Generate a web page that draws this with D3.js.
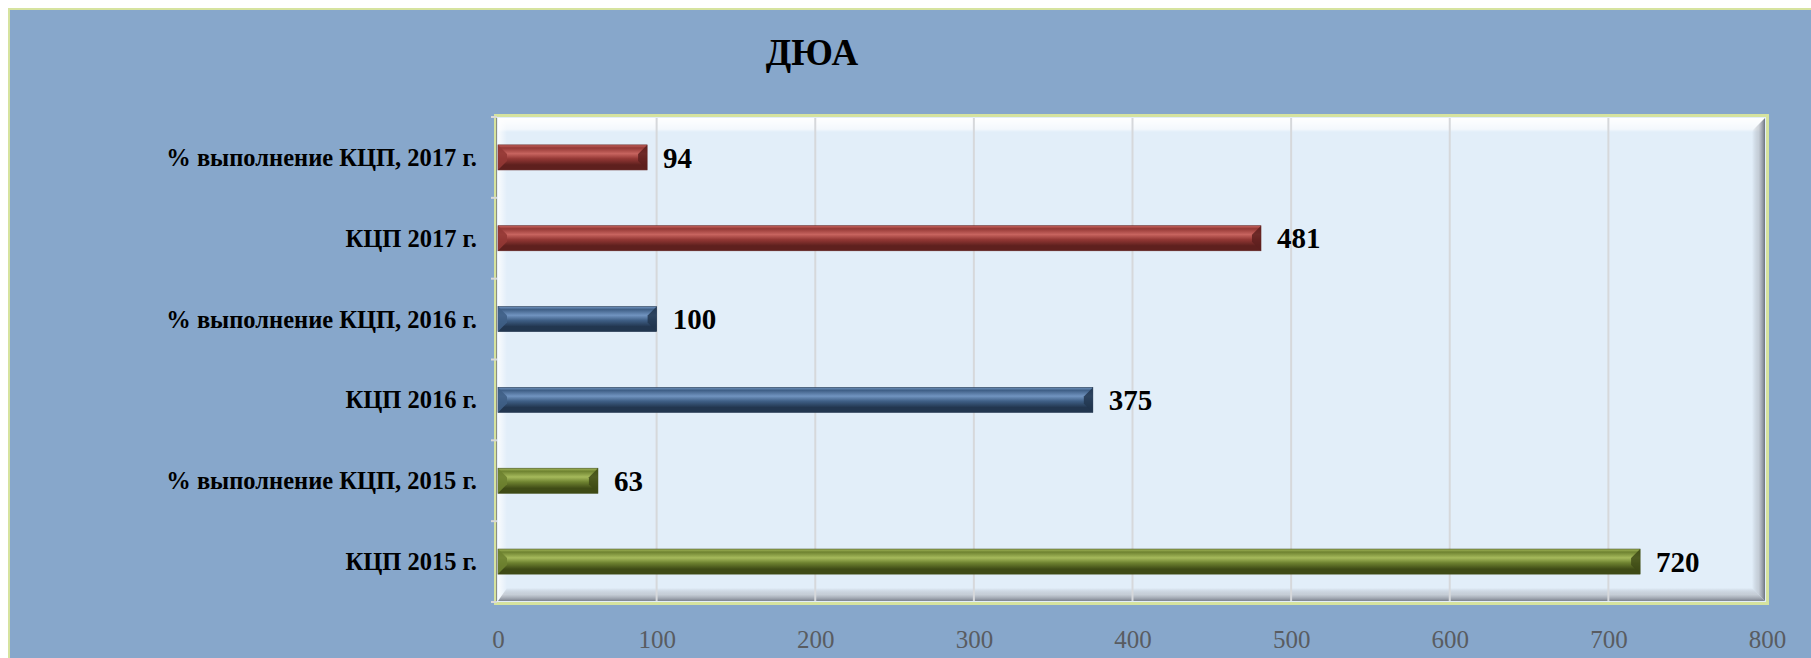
<!DOCTYPE html>
<html>
<head>
<meta charset="utf-8">
<script src="https://cdn.jsdelivr.net/npm/d3@7"></script>
<style>
  html, body { margin: 0; padding: 0; background: #ffffff; }
  svg { display: block; }
  text { font-family: "Liberation Serif", "Times New Roman", serif; }
</style>
</head>
<body>
<div id="chart"></div>
<script>
// data, bottom to top
var categories = ["КЦП 2015 г.", "% выполнение КЦП, 2015 г.", "КЦП 2016 г.",
                  "% выполнение КЦП, 2016 г.", "КЦП 2017 г.", "% выполнение КЦП, 2017 г."];
var values = [720, 63, 375, 100, 481, 94];
var years = ["2015", "2015", "2016", "2016", "2017", "2017"];
var xTicks = [0, 100, 200, 300, 400, 500, 600, 700, 800];
var title = "ДЮА";

var width = 1811,
    height = 658;

var palette = {
  "2015": {base: "#6e8230", light: "#a6ba5c", dark: "#3f4b16"},
  "2016": {base: "#3f5f86", light: "#7194c0", dark: "#22364f"},
  "2017": {base: "#943835", light: "#c7645f", dark: "#5e201e"}
};

var svg = d3.select("#chart").append("svg")
    .attr("width", width)
    .attr("height", height);

var defs = svg.append("defs");

// 1. background
svg.append("rect")
    .attr("x", 9).attr("y", 9)
    .attr("width", width).attr("height", height)
    .attr("fill", "#87a7cb")
    .attr("stroke", "#d6e39f")
    .attr("stroke-width", 2);

svg.append("text")
    .attr("x", 812).attr("y", 65)
    .attr("text-anchor", "middle")
    .attr("font-family", "Liberation Serif, serif")
    .attr("font-size", 37)
    .attr("font-weight", "bold")
    .attr("fill", "#000")
    .text(title);

// 2. scales
var plotTop = 117, plotBottom = 602, plotLeft = 497, plotRight = 1766;

var x = d3.scaleLinear()
    .domain([0, 800])
    .range([498, 1767]);

var y = d3.scaleBand()
    .domain(categories)
    .range([plotBottom, plotTop])
    .paddingInner(0.69)
    .paddingOuter(0.345);

// 3. plot panel
svg.append("rect")
    .attr("x", plotLeft - 1.5).attr("y", plotTop - 1.5)
    .attr("width", plotRight - plotLeft + 3).attr("height", plotBottom - plotTop + 3)
    .attr("fill", "#e2eef9")
    .attr("stroke", "#d6e39f")
    .attr("stroke-width", 3);

function linGrad(id, x2, y2, stops) {
  var g = defs.append("linearGradient").attr("id", id)
      .attr("x1", 0).attr("y1", 0).attr("x2", x2).attr("y2", y2);
  stops.forEach(function(s) {
    g.append("stop").attr("offset", s[0]).attr("stop-color", s[1]).attr("stop-opacity", s[2]);
  });
}
linGrad("bevTop", 0, 1, [[0, "#ffffff", 1], [0.8, "#ffffff", 0.6], [1, "#ffffff", 0]]);
linGrad("bevLeft", 1, 0, [[0, "#ffffff", 0.8], [1, "#ffffff", 0]]);
linGrad("bevRight", 1, 0, [[0, "#8a909b", 0], [0.5, "#a9aeb6", 0.5], [1, "#6d7380", 1]]);
linGrad("bevBottom", 0, 1, [[0, "#8a909b", 0], [0.5, "#b3b8c0", 0.6], [1, "#7c828e", 1]]);

var inL = plotLeft + 1, inR = plotRight - 1, inT = plotTop + 1, inB = plotBottom - 1;
svg.append("rect").attr("x", inL).attr("y", inT).attr("width", inR - inL).attr("height", 14).attr("fill", "url(#bevTop)");
svg.append("rect").attr("x", inL).attr("y", inT).attr("width", 9).attr("height", inB - inT).attr("fill", "url(#bevLeft)");
svg.append("path")
    .attr("d", "M" + inR + "," + inT + "L" + inR + "," + inB + "L" + (inR - 13) + "," + (inB - 13) + "L" + (inR - 13) + "," + (inT + 13) + "Z")
    .attr("fill", "url(#bevRight)");
svg.append("path")
    .attr("d", "M" + inL + "," + inB + "L" + inR + "," + inB + "L" + (inR - 13) + "," + (inB - 13) + "L" + (inL + 9) + "," + (inB - 13) + "Z")
    .attr("fill", "url(#bevBottom)");

// 4. gridlines and axes
svg.append("g")
    .selectAll("line")
    .data(xTicks.slice(1, -1))
    .enter()
    .append("line")
    .attr("x1", function(d) { return x(d); })
    .attr("x2", function(d) { return x(d); })
    .attr("y1", inT).attr("y2", inB)
    .attr("stroke", "#d6d8db")
    .attr("stroke-width", 2);

var xAxis = svg.append("g")
    .attr("transform", "translate(0," + plotBottom + ")")
    .call(d3.axisBottom(x).tickValues(xTicks).tickSize(0).tickPadding(28).tickFormat(d3.format("d")));
xAxis.select(".domain").remove();
xAxis.selectAll("text")
    .attr("font-family", "Liberation Serif, serif")
    .attr("font-size", 25)
    .attr("fill", "#595c61");

svg.append("line")
    .attr("x1", plotLeft - 0.5).attr("x2", plotLeft - 0.5)
    .attr("y1", plotTop).attr("y2", plotBottom)
    .attr("stroke", "#8d8f80").attr("stroke-width", 1);

var step = y.step();
svg.append("g")
    .selectAll("line")
    .data(d3.range(categories.length + 1))
    .enter()
    .append("line")
    .attr("x1", plotLeft - 6).attr("x2", plotLeft)
    .attr("y1", function(i) { return plotBottom - i * step; })
    .attr("y2", function(i) { return plotBottom - i * step; })
    .attr("stroke", "#d9d9d9").attr("stroke-width", 2);

svg.append("g")
    .selectAll("text")
    .data(categories)
    .enter()
    .append("text")
    .attr("x", 477)
    .attr("y", function(d) { return y(d) + y.bandwidth() / 2; })
    .attr("dy", "0.35em")
    .attr("text-anchor", "end")
    .attr("font-size", 24.5)
    .attr("font-weight", "bold")
    .attr("fill", "#000")
    .text(function(d) { return d; });

// 5. bars with bevel
years.forEach(function(yr) {
  var c = palette[yr];
  linGrad("bar" + yr, 0, 1, [[0, c.light, 1], [0.12, c.base, 1], [0.35, c.light, 1],
                             [0.55, c.base, 1], [0.8, c.dark, 1], [1, c.dark, 1]]);
});

var bev = 9;
var bars = svg.append("g")
    .selectAll("g")
    .data(categories)
    .enter()
    .append("g");

bars.append("rect")
    .attr("x", x(0))
    .attr("y", function(d) { return y(d); })
    .attr("width", function(d, i) { return x(values[i]) - x(0); })
    .attr("height", y.bandwidth())
    .attr("fill", function(d, i) { return "url(#bar" + years[i] + ")"; })
    .attr("stroke", function(d, i) { return palette[years[i]].dark; })
    .attr("stroke-width", 0.6);

bars.append("path")
    .attr("d", function(d, i) {
      var x1 = x(values[i]), y0 = y(d), y1 = y(d) + y.bandwidth();
      return "M" + x1 + "," + y0 + "L" + (x1 - bev) + "," + (y0 + bev) + "L" + (x1 - bev) + "," + (y1 - bev) + "L" + x1 + "," + y1 + "Z";
    })
    .attr("fill", function(d, i) { return palette[years[i]].dark; })
    .attr("opacity", 0.85);

bars.append("path")
    .attr("d", function(d, i) {
      var x0 = x(0), y0 = y(d), y1 = y(d) + y.bandwidth();
      return "M" + x0 + "," + y0 + "L" + (x0 + bev) + "," + (y0 + bev) + "L" + (x0 + bev) + "," + (y1 - bev) + "L" + x0 + "," + y1 + "Z";
    })
    .attr("fill", function(d, i) { return palette[years[i]].base; })
    .attr("opacity", 0.9);

// 6. value labels
bars.append("text")
    .attr("x", function(d, i) { return x(values[i]) + 16; })
    .attr("y", function(d) { return y(d) + y.bandwidth() / 2; })
    .attr("dy", "0.35em")
    .attr("font-size", 29)
    .attr("font-weight", "bold")
    .attr("fill", "#000")
    .text(function(d, i) { return values[i]; });
</script>
</body>
</html>
